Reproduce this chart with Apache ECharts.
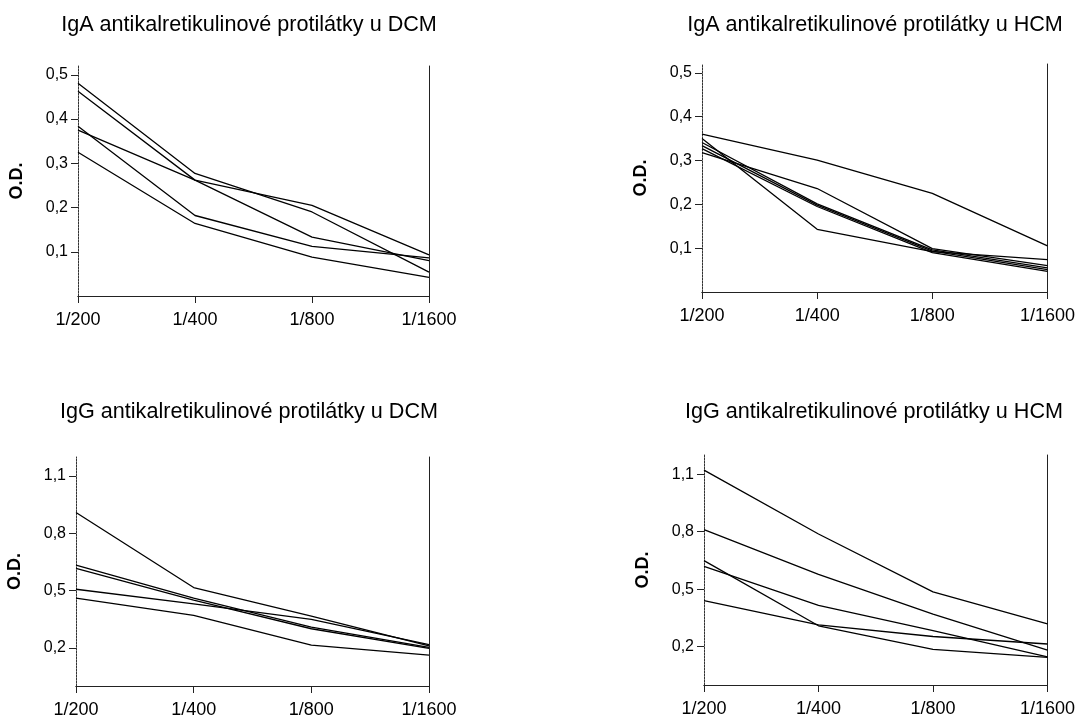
<!DOCTYPE html>
<html>
<head>
<meta charset="utf-8">
<script src="https://cdn.jsdelivr.net/npm/echarts@6/dist/echarts.min.js"></script>
<style>
  html, body { margin: 0; padding: 0; background: #fff; }
  #chart { width: 1078px; height: 719px; }
</style>
</head>
<body>
<div id="chart"></div>
<script>
// Serum dilutions on the x axis
const dilutions = ['1/200', '1/400', '1/800', '1/1600'];

// Optical density per patient sample, one row per sample
const igaDcm = [
  [0.481, 0.277, 0.190, 0.054],
  [0.463, 0.262, 0.133, 0.080],
  [0.375, 0.262, 0.205, 0.093],
  [0.384, 0.182, 0.112, 0.086],
  [0.325, 0.164, 0.088, 0.042]
];
const igaHcm = [
  [0.360, 0.301, 0.225, 0.105],
  [0.350, 0.143, 0.092, 0.074],
  [0.318, 0.236, 0.099, 0.060],
  [0.341, 0.201, 0.096, 0.055],
  [0.334, 0.198, 0.093, 0.051],
  [0.327, 0.195, 0.090, 0.047]
];
const iggDcm = [
  [0.909, 0.516, 0.366, 0.210],
  [0.634, 0.460, 0.309, 0.202],
  [0.616, 0.450, 0.300, 0.197],
  [0.507, 0.430, 0.349, 0.217],
  [0.460, 0.370, 0.214, 0.162]
];
const iggHcm = [
  [1.121, 0.788, 0.486, 0.319],
  [0.811, 0.577, 0.370, 0.182],
  [0.619, 0.416, 0.284, 0.147],
  [0.649, 0.309, 0.186, 0.144],
  [0.440, 0.314, 0.253, 0.214]
];

// Tick labels on the O.D. axes
const igaTicks = [0.1, 0.2, 0.3, 0.4, 0.5];
const iggTicks = [0.2, 0.5, 0.8, 1.1];

const titles = [
  'IgA antikalretikulinové protilátky u DCM',
  'IgA antikalretikulinové protilátky u HCM',
  'IgG antikalretikulinové protilátky u DCM',
  'IgG antikalretikulinové protilátky u HCM'
];

const FONT = '"Liberation Sans", Arial, Helvetica, sans-serif';

// Panel layout: plot rectangle, y range and title anchor
const panels = [
  { data: igaDcm, ticks: igaTicks, max: 0.52, grid: { left: 78, top: 66, width: 351, height: 230 }, titleX: 249, titleY: 25 },
  { data: igaHcm, ticks: igaTicks, max: 0.52, grid: { left: 702, top: 64, width: 351, height: 228 }, titleX: 875, titleY: 25 },
  { data: iggDcm, ticks: iggTicks, max: 1.2,  grid: { left: 76,  top: 457, width: 353, height: 230 }, titleX: 249, titleY: 412 },
  { data: iggHcm, ticks: iggTicks, max: 1.2,  grid: { left: 704, top: 455, width: 352, height: 230 }, titleX: 874, titleY: 412 }
];

const axisDash = { color: '#333', width: 1, type: [2, 1] };
const frameLine = { color: '#222', width: 1 };
const fmt = v => v.toFixed(1).replace('.', ',');

const grid = [], xAxis = [], yAxis = [], series = [], graphic = [];

panels.forEach((p, i) => {
  grid.push(Object.assign({ containLabel: false }, p.grid));

  // bottom category axis
  xAxis.push({
    type: 'category', gridIndex: i, data: dilutions, boundaryGap: false,
    axisLine: { show: true, lineStyle: axisDash },
    axisTick: { show: true, length: 7, lineStyle: { color: '#222' } },
    axisLabel: { interval: 0, margin: 15, fontSize: 18, fontFamily: FONT, color: '#000' },
    splitLine: { show: false }
  });
  // top frame edge
  xAxis.push({
    type: 'category', gridIndex: i, data: dilutions, boundaryGap: false, position: 'top',
    axisLine: { show: true, lineStyle: frameLine },
    axisTick: { show: false }, axisLabel: { show: false }, splitLine: { show: false }
  });

  // left value axis
  yAxis.push({
    type: 'value', gridIndex: i, min: 0, max: p.max,
    name: 'O.D.', nameLocation: 'middle', nameRotate: 90, nameGap: 52,
    nameTextStyle: { fontSize: 18, fontWeight: 'bold', fontFamily: FONT, color: '#000' },
    axisLine: { show: true, lineStyle: axisDash },
    axisTick: { show: true, length: 7, customValues: p.ticks, lineStyle: { color: '#222' } },
    axisLabel: { margin: 10, fontSize: 16, fontFamily: FONT, color: '#000', customValues: p.ticks, formatter: fmt },
    splitLine: { show: false }
  });
  // right frame edge
  yAxis.push({
    type: 'value', gridIndex: i, min: 0, max: p.max, position: 'right',
    axisLine: { show: true, lineStyle: frameLine },
    axisTick: { show: false }, axisLabel: { show: false }, splitLine: { show: false }
  });

  p.data.forEach(row => {
    series.push({
      type: 'line', xAxisIndex: 2 * i, yAxisIndex: 2 * i, data: row,
      symbol: 'none', silent: true, animation: false,
      lineStyle: { color: '#000', width: 1.3 }
    });
  });

  graphic.push({
    type: 'text', x: p.titleX, y: p.titleY, silent: true,
    style: { text: titles[i], fill: '#000', font: '21.6px ' + FONT, align: 'center', verticalAlign: 'middle' }
  });
});

const chart = echarts.init(document.getElementById('chart'), null, { renderer: 'canvas' });
chart.setOption({
  backgroundColor: '#fff',
  animation: false,
  grid, xAxis, yAxis, series, graphic
});
</script>
</body>
</html>
